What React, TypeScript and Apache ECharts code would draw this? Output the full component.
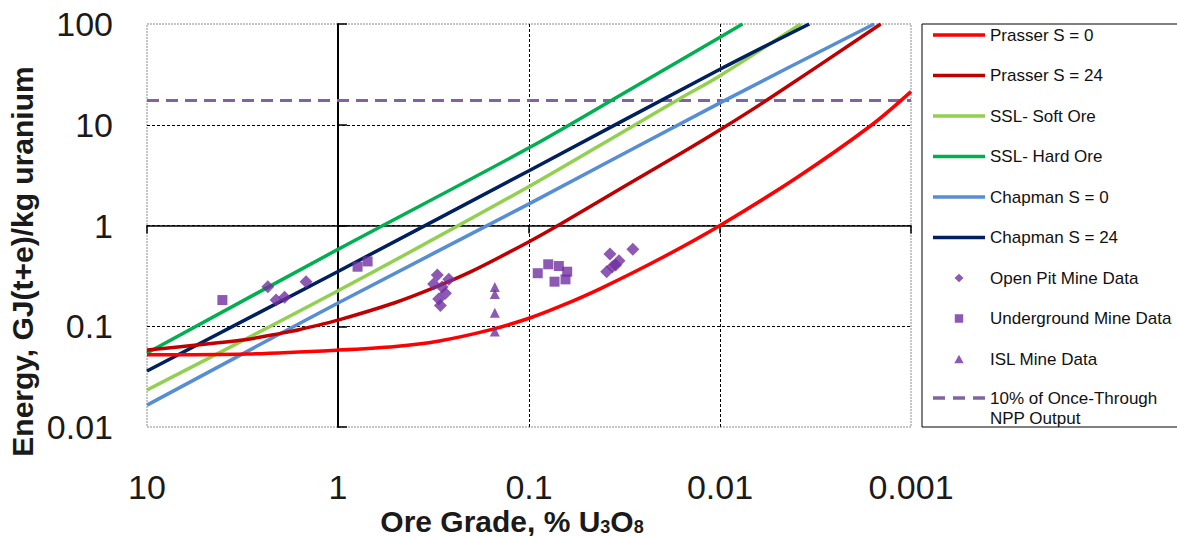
import React, { useEffect, useRef } from 'react';
import * as echarts from 'echarts';

const FONT = "'Liberation Sans', Arial, Helvetica, sans-serif";

// Tick values (log axes)
const gradeTicks = [10, 1, 0.1, 0.01, 0.001];
const energyTicks = [0.01, 0.1, 1, 10, 100];

// [ore grade % U3O8, energy GJ(t+e)/kg U]
const prasserS0: [number, number][] = [
  [10, 0.052], [3, 0.053], [1, 0.058], [0.5, 0.063], [0.3, 0.071], [0.16, 0.092],
  [0.1, 0.12], [0.068, 0.159], [0.042, 0.238], [0.0205, 0.47], [0.01, 1.0],
  [0.0039, 3.05], [0.0016, 10], [0.001, 21.3],
];
const prasserS24: [number, number][] = [
  [10, 0.058], [3.16, 0.073], [2, 0.085], [1.58, 0.093], [1, 0.115], [0.5, 0.172],
  [0.316, 0.24], [0.2, 0.35], [0.1, 0.69], [0.068, 1.04], [0.0316, 2.45], [0.016, 5.2],
  [0.01, 8.9], [0.0057, 17.5], [0.00144, 100],
];
const sslSoft: [number, number][] = [
  [10, 0.0233], [1, 0.225], [0.1, 2.44], [0.03, 9.2], [0.0161, 18.3], [0.01, 30.7], [0.00378, 100],
];
const sslHard: [number, number][] = [
  [10, 0.0543], [1, 0.58], [0.1, 5.9], [0.03, 22], [0.01, 74], [0.00762, 100],
];
const chapmanS0: [number, number][] = [
  [10, 0.0165], [1, 0.17], [0.1, 1.64], [0.01, 16.5], [0.00156, 100],
];
const chapmanS24: [number, number][] = [
  [10, 0.036], [1, 0.35], [0.1, 3.5], [0.01, 35.5], [0.00341, 100],
];
const nppOutput: [number, number][] = [[10, 17.4], [0.001, 17.4]];

const openPit: [number, number][] = [
  [2.33, 0.247], [2.11, 0.182], [1.905, 0.194], [1.47, 0.277],
  [0.302, 0.323], [0.263, 0.292], [0.316, 0.262], [0.285, 0.245], [0.274, 0.212],
  [0.297, 0.186], [0.291, 0.161],
  [0.0286, 0.58], [0.0377, 0.521], [0.0338, 0.448], [0.0366, 0.39], [0.0392, 0.348], [0.0352, 0.405],
];
const underground: [number, number][] = [
  [4.03, 0.182], [0.79, 0.39], [0.7, 0.44],
  [0.09, 0.336], [0.0793, 0.412], [0.0698, 0.396], [0.0631, 0.348], [0.0735, 0.277], [0.0644, 0.292],
];
const isl: [number, number][] = [
  [0.151, 0.245], [0.151, 0.209], [0.151, 0.136], [0.151, 0.0887],
];

const NPP_NAME = '10% of Once-Through\nNPP Output';

const LINE_ICON = 'path://M0,0L0.01,0M0,5.2H52V8.8H0ZM52,14L52.01,14';
const DIAMOND_ICON = 'path://M0,0L0.01,0M26,2.8L30.5,7L26,11.2L21.5,7ZM52,14L52.01,14';
const SQUARE_ICON = 'path://M0,0L0.01,0M21.8,2.8H30.2V11.2H21.8ZM52,14L52.01,14';
const TRIANGLE_ICON = 'path://M0,0L0.01,0M26,2.8L30.7,11.2H21.3ZM52,14L52.01,14';
const DASH_ICON = 'path://M0,0L0.01,0M0,0.3H12V3.7H0ZM20,0.3H32V3.7H20ZM40,0.3H52V3.7H40ZM52,24L52.01,24';

const T = 'rgba(0,0,0,0)';
const SPLIT_COLORS = [T, '#000', '#000', '#000', T];

const fmt = (v: number) => String(Number(Number(v).toPrecision(4)));

const lineSeries = (name: string, data: [number, number][], color: string, smooth: number | boolean = 0.3) => ({
  type: 'line',
  name,
  data,
  color,
  symbol: 'none',
  showSymbol: false,
  smooth,
  silent: true,
  lineStyle: { color, width: 3.5 },
  itemStyle: { color },
  z: 3,
});

const scatterSeries = (name: string, data: [number, number][], symbol: string, size: number) => ({
  type: 'scatter',
  name,
  data,
  symbol,
  symbolSize: size,
  color: '#7030A0',
  itemStyle: { color: '#7030A0' },
  silent: true,
  z: 5,
});

const legendText = { fontSize: 17, color: '#111', lineHeight: 20, fontFamily: FONT };

const option = {
  animation: false,
  backgroundColor: '#fff',
  textStyle: { fontFamily: FONT },
  grid: {
    left: 147, top: 24, width: 764, height: 403,
    show: true, borderColor: '#8c8c8c', borderWidth: 1, borderType: [2, 1],
    backgroundColor: 'transparent', containLabel: false, outerBoundsMode: 'none',
  },
  xAxis: [
    {
      type: 'log', logBase: 10, inverse: true, min: gradeTicks[4], max: gradeTicks[0],
      position: 'bottom',
      axisLine: { show: false }, axisTick: { show: false },
      axisLabel: { fontSize: 34, lineHeight: 32, color: '#1a1a1a', margin: 44, formatter: fmt, showMinLabel: true, showMaxLabel: true },
      splitLine: { show: true, lineStyle: { color: SPLIT_COLORS, type: [3, 2], width: 1 } },
      name: '{m|Ore Grade, % U}{s|3}{m|O}{s|8}',
      nameLocation: 'middle', nameGap: 79, nameMoveOverlap: false,
      nameTextStyle: {
        padding: [0, 34, 0, 0],
        rich: {
          m: { fontSize: 30, fontWeight: 'bold', color: '#1a1a1a', verticalAlign: 'top', fontFamily: FONT },
          s: { fontSize: 18, fontWeight: 'bold', color: '#1a1a1a', verticalAlign: 'top', padding: [12, 0, 0, 0], fontFamily: FONT },
        },
      },
    },
    {
      type: 'log', logBase: 10, inverse: true, min: gradeTicks[4], max: gradeTicks[0],
      position: 'bottom', offset: -201.5,
      axisLine: { show: true, onZero: false, lineStyle: { color: '#000', width: 1.5 } },
      axisTick: { show: true, inside: false, length: 8, lineStyle: { color: '#000', width: 1.5 } },
      axisLabel: { show: false }, splitLine: { show: false },
    },
  ],
  yAxis: [
    {
      type: 'log', logBase: 10, min: energyTicks[0], max: energyTicks[4],
      position: 'left',
      axisLine: { show: false }, axisTick: { show: false },
      axisLabel: { fontSize: 34, color: '#1a1a1a', margin: 34, formatter: fmt, showMinLabel: true, showMaxLabel: true },
      splitLine: { show: true, lineStyle: { color: SPLIT_COLORS, type: [3, 2], width: 1 } },
      name: 'Energy, GJ(t+e)/kg uranium',
      nameLocation: 'middle', nameGap: 110, nameMoveOverlap: false,
      nameTextStyle: { fontSize: 30, fontWeight: 'bold', color: '#1a1a1a', padding: [0, 72, 0, 0] },
    },
    {
      type: 'log', logBase: 10, min: energyTicks[0], max: energyTicks[4],
      position: 'left', offset: -191,
      axisLine: { show: true, onZero: false, lineStyle: { color: '#000', width: 2 } },
      axisTick: { show: true, inside: true, length: 9, lineStyle: { color: '#000', width: 1.5 } },
      axisLabel: { show: false }, splitLine: { show: false },
    },
  ],
  legend: [
    {
      orient: 'vertical', left: 922, top: 24,
      padding: [1, 40, 58, 11],
      itemWidth: 52, itemHeight: 14, itemGap: 20.5,
      backgroundColor: '#fff', borderColor: '#000', borderWidth: 1,
      selectedMode: false,
      textStyle: legendText,
      itemStyle: { borderWidth: 0 },
      data: [
        { name: 'Prasser S = 0', icon: LINE_ICON },
        { name: 'Prasser S = 24', icon: LINE_ICON },
        { name: 'SSL- Soft Ore', icon: LINE_ICON },
        { name: 'SSL- Hard Ore', icon: LINE_ICON },
        { name: 'Chapman S = 0', icon: LINE_ICON },
        { name: 'Chapman S = 24', icon: LINE_ICON },
        { name: 'Open Pit Mine Data', icon: DIAMOND_ICON },
        { name: 'Underground Mine Data', icon: SQUARE_ICON },
        { name: 'ISL Mine Data', icon: TRIANGLE_ICON },
      ],
    },
    {
      orient: 'vertical', left: 922, top: 388,
      padding: [0, 0, 0, 11],
      itemWidth: 52, itemHeight: 24,
      selectedMode: false,
      textStyle: legendText,
      itemStyle: { borderWidth: 0 },
      data: [{ name: NPP_NAME, icon: DASH_ICON }],
    },
  ],
  series: [
    {
      ...lineSeries(NPP_NAME, nppOutput, '#8064A2', false),
      lineStyle: { color: '#8064A2', width: 3, type: [12, 7] },
      z: 2,
    },
    lineSeries('Chapman S = 0', chapmanS0, '#558ED5'),
    lineSeries('SSL- Soft Ore', sslSoft, '#92D050'),
    lineSeries('Chapman S = 24', chapmanS24, '#002060'),
    lineSeries('SSL- Hard Ore', sslHard, '#00B050'),
    lineSeries('Prasser S = 24', prasserS24, '#C00000'),
    lineSeries('Prasser S = 0', prasserS0, '#FF0000'),
    scatterSeries('Open Pit Mine Data', openPit, 'diamond', 13),
    scatterSeries('Underground Mine Data', underground, 'rect', 10),
    scatterSeries('ISL Mine Data', isl, 'triangle', 10),
  ],
};

export default function App() {
  const ref = useRef<HTMLDivElement>(null);
  useEffect(() => {
    if (!ref.current) return;
    const chart = echarts.init(ref.current, undefined, { renderer: 'svg' });
    chart.setOption(option as any);
    return () => chart.dispose();
  }, []);
  return (
    <div
      ref={ref}
      style={{ position: 'fixed', left: 0, top: 0, width: 1177, height: 536, background: '#fff' }}
    />
  );
}
